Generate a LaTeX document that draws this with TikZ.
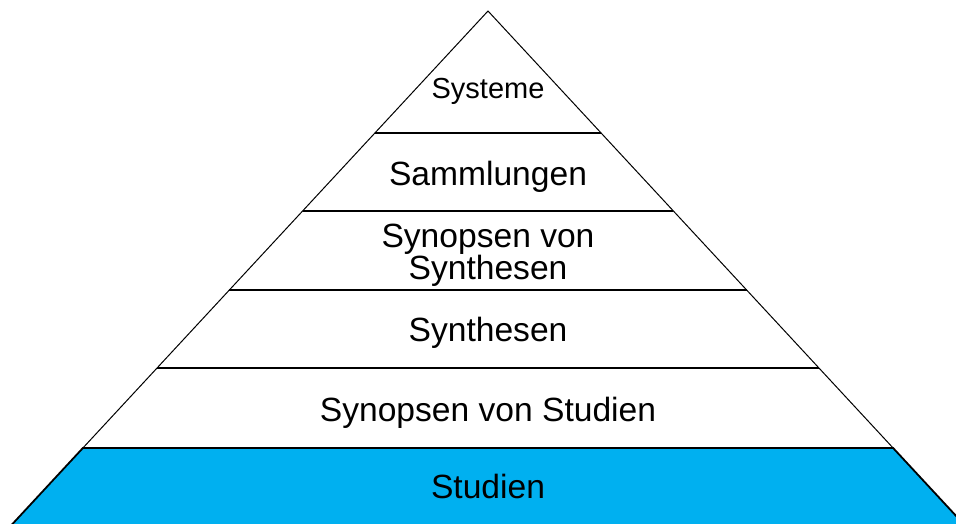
\documentclass[tikz,border=0pt]{standalone}
\usepackage{fontspec}
\setmainfont{Liberation Sans}
\definecolor{basecyan}{HTML}{00B0F0}
\begin{document}
\begin{tikzpicture}[x=1pt,y=-1pt,
  lvl/.style={font=\fontsize{33.6}{32}\selectfont, align=center, inner sep=0pt},
  sep/.style={line width=1.6pt, black},
  edge/.style={line width=1pt, black}]
\useasboundingbox (0,0) rectangle (956,524);
\clip (0,0) rectangle (956,524);
\coordinate (A) at (488,11);
\coordinate (L1) at (374.9,133); \coordinate (R1) at (601.1,133);
\coordinate (L2) at (302.6,211); \coordinate (R2) at (673.4,211);
\coordinate (L3) at (229.4,290); \coordinate (R3) at (746.6,290);
\coordinate (L4) at (157.1,368); \coordinate (R4) at (818.9,368);
\coordinate (L5) at (82.9,448);  \coordinate (R5) at (893.1,448);
\coordinate (L6) at (-2.4,540);  \coordinate (R6) at (978.4,540);
% base band
\fill[basecyan] (L5) -- (R5) -- (R6) -- (L6) -- cycle;
\draw[line width=1.8pt] (L6) -- (L5) -- (R5) -- (R6);
% outline
\draw[edge] (L5) -- (A) -- (R5);
% separators
\draw[sep] (L1) -- (R1);
\draw[sep] (L2) -- (R2);
\draw[sep] (L3) -- (R3);
\draw[sep] (L4) -- (R4);
% labels
\node[lvl, font=\fontsize{29}{30}\selectfont] (systeme) at (488,91) {Systeme};
\node[lvl] (sammlungen) at (488,177) {Sammlungen};
\node[lvl] (synsyn) at (488,255) {Synopsen von\\Synthesen};
\node[lvl] (synthesen) at (488,333) {Synthesen};
\node[lvl] (synstud) at (488,412.5) {Synopsen von Studien};
\node[lvl] (studien) at (488,486.5) {Studien};
\end{tikzpicture}
\end{document}
